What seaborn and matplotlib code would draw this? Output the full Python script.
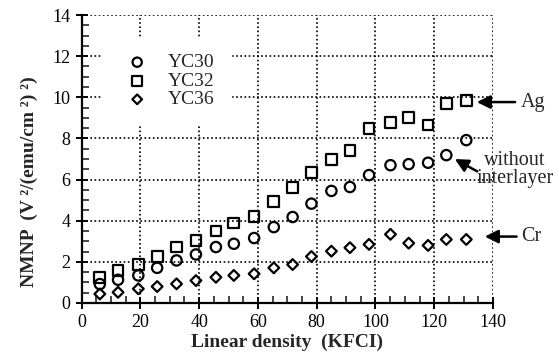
import pandas as pd
import matplotlib
matplotlib.use('Agg')
import matplotlib.pyplot as plt
from matplotlib.ticker import MultipleLocator
import seaborn as sns

# valores
densidade = [6.2, 12.4, 19.3, 25.7, 32.3, 38.9, 45.7, 51.8, 58.7, 65.4,
             71.8, 78.2, 85.0, 91.3, 97.8, 105.1, 111.3, 117.9, 124.1, 130.9]
yc30 = [0.92, 1.13, 1.34, 1.71, 2.07, 2.36, 2.72, 2.88, 3.16, 3.69,
        4.18, 4.83, 5.45, 5.64, 6.22, 6.70, 6.75, 6.82, 7.19, 7.92]
yc32 = [1.25, 1.58, 1.87, 2.26, 2.72, 3.04, 3.50, 3.89, 4.22, 4.95,
        5.62, 6.35, 6.98, 7.43, 8.49, 8.77, 9.01, 8.65, 9.71, 9.84]
yc36 = [0.44, 0.52, 0.69, 0.80, 0.93, 1.09, 1.25, 1.34, 1.42, 1.71,
        1.87, 2.26, 2.52, 2.69, 2.85, 3.34, 2.91, 2.80, 3.09, 3.09]

amostras = ['YC30', 'YC32', 'YC36']
marcadores = {'YC30': 'o', 'YC32': 's', 'YC36': 'D'}
tamanhos = {'YC30': 55, 'YC32': 60, 'YC36': 30}

df = pd.DataFrame({
    'densidade': densidade * 3,
    'nmnp': yc30 + yc32 + yc36,
    'amostra': [a for a in amostras for _ in densidade],
})

sns.set_style('ticks')
plt.rcParams['font.family'] = ['Liberation Serif', 'DejaVu Serif']

fig = plt.figure(figsize=(5.59, 3.59), dpi=100)
ax = fig.add_axes([0.146, 0.156, 0.736, 0.802])

for a in amostras:
    sub = df[df['amostra'] == a]
    sns.scatterplot(x='densidade', y='nmnp', data=sub, ax=ax, marker=marcadores[a],
                    s=tamanhos[a], facecolor='none', edgecolor='black',
                    linewidth=1.6, label=a, zorder=3)

ax.set_xlim(0, 140)
ax.set_ylim(0, 14)
ax.xaxis.set_major_locator(MultipleLocator(20))
ax.xaxis.set_minor_locator(MultipleLocator(5))
ax.yaxis.set_major_locator(MultipleLocator(2))
ax.yaxis.set_minor_locator(MultipleLocator(0.5))
ax.tick_params(which='major', direction='inout', length=9, width=1.4, labelsize=13, colors='black')
ax.tick_params(which='minor', direction='in', length=5, width=1.2)
ax.grid(True, which='major', color='black', linestyle=(0, (1, 1.5)), linewidth=1.2)
for s in ['top', 'right']:
    ax.spines[s].set_visible(False)
for s in ['left', 'bottom']:
    ax.spines[s].set_linewidth(1.6)
    ax.spines[s].set_color('black')

ax.set_xlabel('Linear density  (KFCI)', fontsize=14, fontweight='bold', labelpad=2)
ax.set_ylabel('NMNP  (V ²/(emu/cm ²) ²)', fontsize=14, fontweight='bold')
ax.yaxis.set_label_coords(-0.105, 0.42)

leg = ax.legend(loc='upper left', bbox_to_anchor=(0.05, 0.92), frameon=True,
                facecolor='white', edgecolor='white', framealpha=1,
                fontsize=14, handletextpad=0.6, labelspacing=0.05,
                borderpad=0.8, borderaxespad=0, markerscale=0.9)
leg.set_zorder(4)

# setas e textos das anotacoes
seta = dict(arrowstyle='-|>', color='black', lw=1.8, mutation_scale=20,
            shrinkA=0, shrinkB=0)
setas = [((147.5, 9.77), (134.5, 9.77)),
         ((134.6, 6.4), (127.0, 7.0)),
         ((148.0, 3.23), (137.2, 3.23))]
for cauda, ponta in setas:
    a = ax.annotate('', xy=ponta, xytext=cauda, arrowprops=seta, annotation_clip=False)
    a.arrow_patch.set_clip_on(False)

ax.text(149.3, 9.77, 'Ag', fontsize=14.5, va='center', ha='left', clip_on=False)
ax.text(134.3, 6.5, 'without\ninterlayer', fontsize=14.5, va='center', ha='left',
        multialignment='center', linespacing=0.9, clip_on=False)
ax.text(149.5, 3.23, 'Cr', fontsize=14.5, va='center', ha='left', clip_on=False)

plt.savefig('out.png', dpi=100)
